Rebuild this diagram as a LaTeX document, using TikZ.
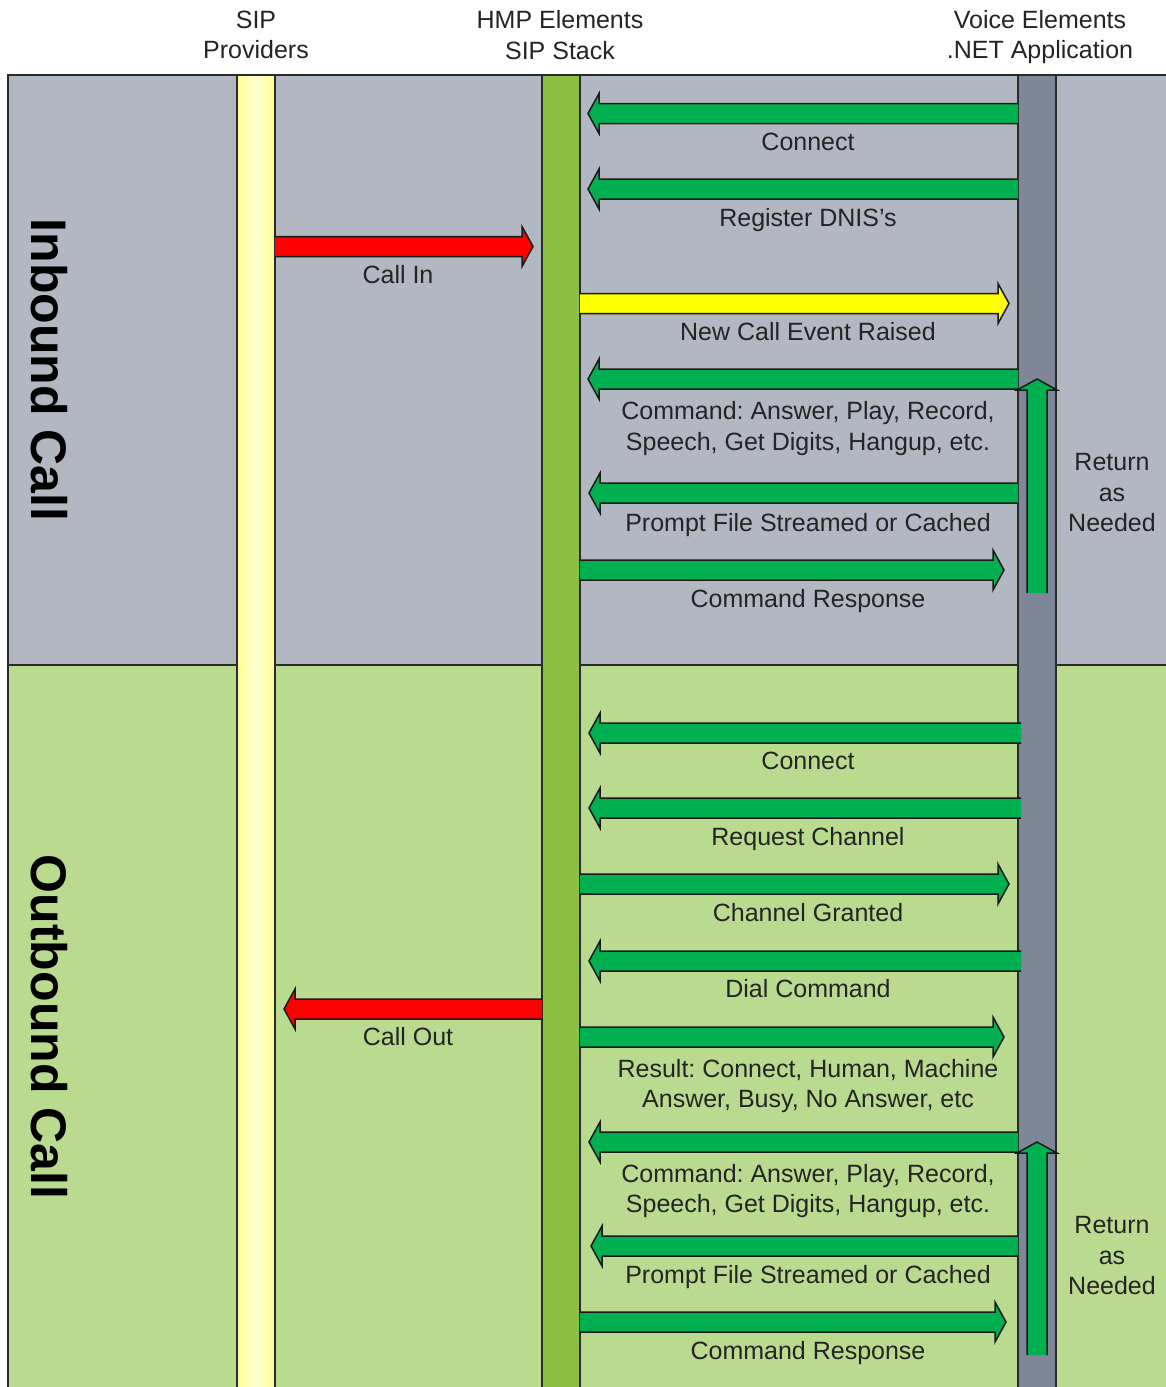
\documentclass[tikz,border=0pt]{standalone}
\usepackage{xcolor}
\usepackage{fontspec}
\setmainfont{Liberation Sans}
\usepackage{tikz}
\usetikzlibrary{calc}
\usetikzlibrary{positioning}
\frenchspacing

\definecolor{bggray}{RGB}{179,183,194}
\definecolor{bggreen}{RGB}{186,218,143}
\definecolor{sipyellow}{RGB}{255,255,150}
\definecolor{sipyellowlt}{RGB}{255,255,205}
\definecolor{hmpgreen}{RGB}{141,192,66}
\definecolor{vegray}{RGB}{126,134,152}
\definecolor{msggreen}{RGB}{0,176,80}
\definecolor{msgred}{RGB}{255,0,0}
\definecolor{msgyellow}{RGB}{255,255,0}
\definecolor{txtdark}{RGB}{36,36,36}
\definecolor{edgedark}{RGB}{40,44,40}

\tikzset{
  lbl/.style={font=\fontsize{25}{30.5}\selectfont, text=txtdark, align=center, inner sep=0pt},
  side/.style={font=\fontsize{50}{60}\selectfont\bfseries, text=black, rotate=-90, inner sep=0pt},
  lane/.style={draw=edgedark, line width=1.5pt},
  msgedge/.style={draw=black!90, line width=1.5pt}
}

\newcommand{\blockarrow}[3]{%
  \coordinate (hb) at ($(#3)!11pt!(#2)$);
  \fill [#1] ($(#2)!10pt!90:(#3)$) -- ($(hb)!10pt!90:(#3)$) -- ($(hb)!20pt!90:(#3)$) -- (#3)
    -- ($(hb)!20pt!-90:(#3)$) -- ($(hb)!10pt!-90:(#3)$) -- ($(#2)!10pt!-90:(#3)$) -- cycle;
  \draw [msgedge] ($(#2)!10pt!90:(#3)$) -- ($(hb)!10pt!90:(#3)$) -- ($(hb)!20pt!90:(#3)$) -- (#3)
    -- ($(hb)!20pt!-90:(#3)$) -- ($(hb)!10pt!-90:(#3)$) -- ($(#2)!10pt!-90:(#3)$);}

\begin{document}
\begin{tikzpicture}[x=1pt, y=-1pt]
\useasboundingbox (0,0) rectangle (1165,1387);
\fill [white] (0,0) rectangle (1165,1387);

\draw [lane, fill=bggray] (8,75) rectangle (1175,665);
\draw [lane, fill=bggreen] (8,665) rectangle (1175,1395);

\shadedraw [lane, left color=sipyellow, right color=sipyellow, middle color=sipyellowlt] (237,75) rectangle (275,1395);
\draw [lane, fill=hmpgreen] (542,75) rectangle (580,1395);
\draw [lane, fill=vegray] (1018,75) rectangle (1056,1395);

\node [lbl] (Sip) at (256,35) {SIP\\Providers};
\node [lbl] (Hmp) at (560,35) {HMP Elements\\SIP Stack};
\node [lbl] (Ve) at (1040,37) {Voice Elements\\.NET Application};

\node [side] (InC) at (49,370) {Inbound Call};
\node [side] (OutC) at (49,1027) {Outbound Call};

\coordinate (cn1s) at (1018,113.5); \coordinate (cn1e) at (588,113.5);
\coordinate (rgs) at (1018,189); \coordinate (rge) at (588,189);
\coordinate (cis) at (275,246.5); \coordinate (cie) at (533,246.5);
\coordinate (ncs) at (580,303.5); \coordinate (nce) at (1009,303.5);
\coordinate (cm1s) at (1018,379); \coordinate (cm1e) at (588,379);
\coordinate (pf1s) at (1018,493); \coordinate (pf1e) at (589,493);
\coordinate (cr1s) at (580,570); \coordinate (cr1e) at (1004,570);
\coordinate (rt1s) at (1037,593); \coordinate (rt1e) at (1037,379);

\blockarrow{msggreen}{cn1s}{cn1e}
\blockarrow{msggreen}{rgs}{rge}
\blockarrow{msgred}{cis}{cie}
\blockarrow{msgyellow}{ncs}{nce}
\blockarrow{msggreen}{cm1s}{cm1e}
\blockarrow{msggreen}{pf1s}{pf1e}
\blockarrow{msggreen}{cr1s}{cr1e}
\blockarrow{msggreen}{rt1s}{rt1e}

\node [lbl, anchor=base] (Lcn1) at (808,150) {Connect};
\node [lbl, anchor=base] (Lrg) at (808,226) {Register DNIS’s};
\node [lbl, anchor=base] (Lci) at (398,283) {Call In};
\node [lbl, anchor=base] (Lnc) at (808,340) {New Call Event Raised};
\node [lbl] (Lcm1) at (808,428.5) {Command: Answer, Play, Record,\\Speech, Get Digits, Hangup, etc.};
\node [lbl, anchor=base] (Lpf1) at (808,531) {Prompt File Streamed or Cached};
\node [lbl, anchor=base] (Lcr1) at (808,607) {Command Response};
\node [lbl] (Lrt1) at (1112,493) {Return\\as\\Needed};

\coordinate (cn2s) at (1021,733); \coordinate (cn2e) at (589,733);
\coordinate (rqs) at (1021,808); \coordinate (rqe) at (589,808);
\coordinate (cgs) at (580,884); \coordinate (cge) at (1009,884);
\coordinate (dcs) at (1021,961); \coordinate (dce) at (589,961);
\coordinate (cos) at (542,1009); \coordinate (coe) at (284,1009);
\coordinate (rss) at (580,1037); \coordinate (rse) at (1004,1037);
\coordinate (cm2s) at (1018,1142); \coordinate (cm2e) at (589,1142);
\coordinate (pf2s) at (1018,1246); \coordinate (pf2e) at (591,1246);
\coordinate (cr2s) at (580,1322); \coordinate (cr2e) at (1006,1322);
\coordinate (rt2s) at (1037,1355); \coordinate (rt2e) at (1037,1142);

\blockarrow{msggreen}{cn2s}{cn2e}
\blockarrow{msggreen}{rqs}{rqe}
\blockarrow{msggreen}{cgs}{cge}
\blockarrow{msggreen}{dcs}{dce}
\blockarrow{msgred}{cos}{coe}
\blockarrow{msggreen}{rss}{rse}
\blockarrow{msggreen}{cm2s}{cm2e}
\blockarrow{msggreen}{pf2s}{pf2e}
\blockarrow{msggreen}{cr2s}{cr2e}
\blockarrow{msggreen}{rt2s}{rt2e}

\node [lbl, anchor=base] (Lcn2) at (808,769) {Connect};
\node [lbl, anchor=base] (Lrq) at (808,845) {Request Channel};
\node [lbl, anchor=base] (Lcg) at (808,921) {Channel Granted};
\node [lbl, anchor=base] (Ldc) at (808,997) {Dial Command};
\node [lbl, anchor=base] (Lco) at (408,1045) {Call Out};
\node [lbl] (Lrs) at (808,1086) {Result: Connect, Human, Machine\\Answer, Busy, No Answer, etc};
\node [lbl] (Lcm2) at (808,1191) {Command: Answer, Play, Record,\\Speech, Get Digits, Hangup, etc.};
\node [lbl, anchor=base] (Lpf2) at (808,1283) {Prompt File Streamed or Cached};
\node [lbl, anchor=base] (Lcr2) at (808,1359) {Command Response};
\node [lbl] (Lrt2) at (1112,1256) {Return\\as\\Needed};
\end{tikzpicture}
\end{document}
